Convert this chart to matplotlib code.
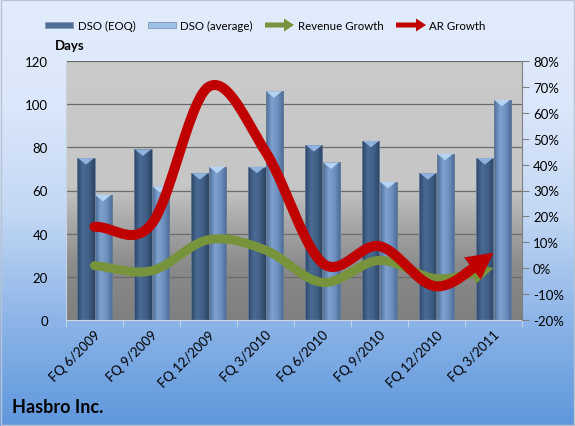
import numpy as np
import matplotlib
matplotlib.use("Agg")
import matplotlib.pyplot as plt
from matplotlib.patches import Rectangle, FancyArrow, Polygon
from matplotlib.ticker import FuncFormatter, MultipleLocator
from matplotlib.colors import LinearSegmentedColormap

plt.rcParams['font.family'] = ['Lato', 'DejaVu Sans']

categories = ["FQ 6/2009", "FQ 9/2009", "FQ 12/2009", "FQ 3/2010",
              "FQ 6/2010", "FQ 9/2010", "FQ 12/2010", "FQ 3/2011"]
dso_eoq = [75, 79, 68, 71, 81, 83, 68, 75]
dso_avg = [58, 62, 71, 106, 73, 64, 77, 102]
revenue_growth = [1, -1, 11, 7, -5.5, 3, -4, 0]
ar_growth = [16, 17, 70, 45, 2, 8.5, -7, 6]

W, H = 575, 427
fig = plt.figure(figsize=(W / 100, H / 100), dpi=100)

# figure background gradient
bg = fig.add_axes([0, 0, 1, 1], zorder=-10)
bg.axis('off')
bgc = LinearSegmentedColormap.from_list('bg', ['#5f97dc', '#8db5e8', '#c3d8f4', '#dbe7fa', '#e2ecfc'])
grad = np.linspace(0, 1, 256)[:, None]
bg.imshow(grad, cmap=bgc, aspect='auto', extent=[0, 1, 0, 1], origin='lower')
bg.set_xlim(0, 1); bg.set_ylim(0, 1)
bg.add_patch(Rectangle((0.002, 0.003), 0.996, 0.994, fill=False, ec='#b8c4d4', lw=1))

ax = fig.add_axes([66 / W, 1 - 321 / H, (522 - 66) / W, (321 - 62) / H], zorder=1)
ax.patch.set_visible(False)
pc = LinearSegmentedColormap.from_list('pa', [(0, '#7f7f7f'), (0.2, '#8a8a8a'), (0.38, '#a9a9a9'),
                                               (0.52, '#c6c6c6'), (1, '#cacaca')])
ax.imshow(grad, cmap=pc, aspect='auto', extent=[0, 1, 0, 1], origin='lower',
          transform=ax.transAxes, zorder=0)

x = np.arange(len(categories))
bw = 0.3
eoq_cm = LinearSegmentedColormap.from_list('e', ['#2d4566', '#4a6b95', '#415f86', '#2c4464'])
avg_cm = LinearSegmentedColormap.from_list('a', ['#4a6b96', '#7fa1cf', '#6d8fbd', '#4a6a94'])
hgrad = np.linspace(0, 1, 64)[None, :]

def draw_bars(xs, vals, cm, cap):
    bars = ax.bar(xs, vals, bw, color='none', edgecolor='#6e7f96', lw=0.6, zorder=3)
    for b in bars:
        x0, w, h = b.get_x(), b.get_width(), b.get_height()
        im = ax.imshow(hgrad, cmap=cm, aspect='auto', extent=[x0, x0 + w, 0, h], zorder=2.5)
        im.set_clip_path(b)
        ax.add_patch(Polygon([[x0 + 0.01, h], [x0 + w - 0.01, h], [x0 + w / 2, h - 3]],
                             closed=True, fc=cap, ec='none', zorder=3.5))

draw_bars(x - 0.15, dso_eoq, eoq_cm, '#8fb3de')
draw_bars(x + 0.15, dso_avg, avg_cm, '#b5d3f3')

ax.set_xlim(-0.5, len(categories) - 0.5)
ax.set_ylim(0, 120)
ax.yaxis.set_major_locator(MultipleLocator(20))
ax.grid(axis='y', color='#6b6b6b', lw=0.9, zorder=1)
ax.set_axisbelow(True)
ax.set_xticks(x)
ax.set_xticklabels(categories, rotation=45, ha='right', va='top', rotation_mode='anchor', fontsize=9.5)
ax.set_xticks(np.arange(-0.5, len(categories)), minor=True)
ax.tick_params(axis='x', which='major', length=0, pad=6)
ax.tick_params(axis='x', which='minor', length=5, color='#d0d8e4', direction='out')
ax.tick_params(axis='y', length=0, pad=13, labelsize=9.5)
for s in ['top', 'right']:
    ax.spines[s].set_visible(False)
ax.spines['left'].set_color('#c8d4e4')
ax.spines['bottom'].set_color('#d0d8e4')

ax2 = ax.twinx()
ax2.set_ylim(-20, 80)
ax2.yaxis.set_major_locator(MultipleLocator(10))
ax2.yaxis.set_major_formatter(FuncFormatter(lambda v, p: f"{v:.0f}%"))
ax2.tick_params(axis='y', length=5, color='#808080', pad=3, labelsize=9.5)
for s in ['top', 'left', 'bottom']:
    ax2.spines[s].set_visible(False)
ax2.spines['right'].set_color('#808080')

def catmull(xs, ys, n=40):
    pts = np.column_stack([xs, ys]).astype(float)
    P = np.vstack([2 * pts[0] - pts[1], pts, 2 * pts[-1] - pts[-2]])
    out = []
    t = np.linspace(0, 1, n, endpoint=False)[:, None]
    for i in range(1, len(P) - 2):
        p0, p1, p2, p3 = P[i - 1], P[i], P[i + 1], P[i + 2]
        seg = 0.5 * (2 * p1 + (-p0 + p2) * t + (2 * p0 - 5 * p1 + 4 * p2 - p3) * t ** 2
                     + (-p0 + 3 * p1 - 3 * p2 + p3) * t ** 3)
        out.append(seg)
    out.append(P[-2][None])
    return np.vstack(out)

def arrow_line(vals, color, lw, hl, hw, tw, frac, z):
    c = catmull(x, vals)
    n = 40
    cut = len(c) - 1 - int(n * frac)
    ax2.plot(c[:cut + 1, 0], c[:cut + 1, 1], color=color, lw=lw, solid_capstyle='round',
             solid_joinstyle='round', zorder=z)
    ax2.annotate('', xy=tuple(c[-1]), xytext=tuple(c[cut - 2]),
                 arrowprops=dict(arrowstyle=f'simple,head_length={hl},head_width={hw},tail_width={tw}',
                                 mutation_scale=20, fc=color, ec='none', shrinkA=0, shrinkB=0),
                 zorder=z)

arrow_line(revenue_growth, '#77933c', 6.5, 0.75, 0.8, 0.32, 0.45, 4)
arrow_line(ar_growth, '#c00000', 7.2, 0.95, 1.0, 0.36, 0.45, 5)

# Labels
fig.text(55 / W, 1 - 46 / H, 'Days', fontsize=9.5, fontweight='bold', ha='left', va='center')
fig.text(12 / W, 1 - 408 / H, 'Hasbro Inc.', fontsize=13, fontweight='bold', ha='left', va='center')

# Legend
T = fig.dpi_scale_trans
def py(v):
    return (H - v) / 100
ly = 26
lfs = 8.3
fig.add_artist(Rectangle((45 / 100, py(ly + 2.5)), 28 / 100, 5 / 100, transform=T,
                         fc='#4f6f98', ec='#8598b2', lw=0.6))
fig.text(78 / W, 1 - ly / H, 'DSO (EOQ)', fontsize=lfs, ha='left', va='center')
fig.add_artist(Rectangle((148 / 100, py(ly + 2.5)), 28 / 100, 5 / 100, transform=T,
                         fc='#9fc0e6', ec='#7f97b8', lw=0.6))
fig.text(180 / W, 1 - ly / H, 'DSO (average)', fontsize=lfs, ha='left', va='center')
fig.add_artist(FancyArrow(265 / 100, py(ly), 29 / 100, 0, width=5 / 100, head_width=13 / 100,
                          head_length=10 / 100, length_includes_head=True, transform=T,
                          fc='#77933c', ec='none'))
fig.text(298 / W, 1 - ly / H, 'Revenue Growth', fontsize=lfs, ha='left', va='center')
fig.add_artist(FancyArrow(396 / 100, py(ly), 30 / 100, 0, width=5 / 100, head_width=13 / 100,
                          head_length=10 / 100, length_includes_head=True, transform=T,
                          fc='#c00000', ec='none'))
fig.text(429 / W, 1 - ly / H, 'AR Growth', fontsize=lfs, ha='left', va='center')

fig.savefig('out.png', dpi=100)
